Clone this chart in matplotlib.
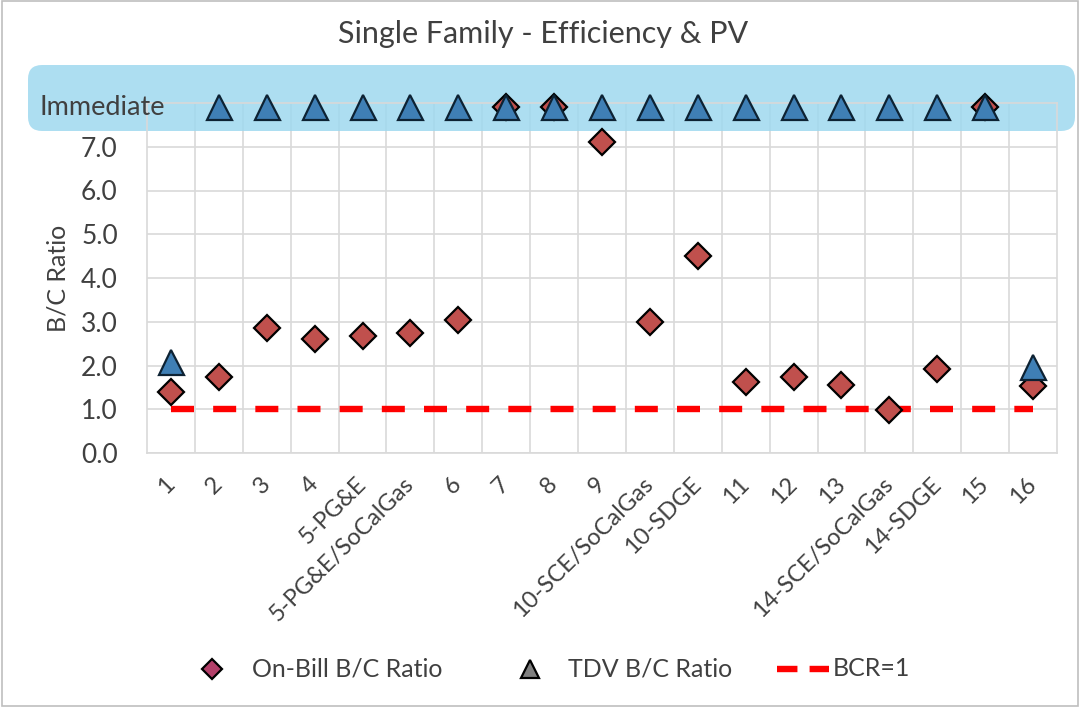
import matplotlib
matplotlib.use("Agg")
import matplotlib.pyplot as plt
from matplotlib.lines import Line2D
from matplotlib.patches import FancyBboxPatch, Rectangle
from matplotlib.transforms import IdentityTransform, blended_transform_factory

plt.rcParams["font.family"] = ["Lato", "DejaVu Sans"]

IMMEDIATE = "Immediate"

categories = [
    "1", "2", "3", "4", "5-PG&E", "5-PG&E/SoCalGas", "6", "7", "8", "9",
    "10-SCE/SoCalGas", "10-SDGE", "11", "12", "13", "14-SCE/SoCalGas",
    "14-SDGE", "15", "16",
]
on_bill = [
    1.39, 1.73, 2.85, 2.60, 2.67, 2.74, 3.03, IMMEDIATE, IMMEDIATE, 7.11,
    2.99, 4.51, 1.62, 1.73, 1.55, 0.98, 1.92, IMMEDIATE, 1.53,
]
tdv = [2.07] + [IMMEDIATE] * 17 + [1.96]
bcr = [1.0] * len(categories)
y_ticks = [0, 1, 2, 3, 4, 5, 6, 7]
legend_labels = ["On-Bill B/C Ratio", "TDV B/C Ratio", "BCR=1"]

IMMEDIATE_Y = 7.9
TEXT = "#404040"
DASH = (0, (3.6, 3.0))


def _to_y(values):
    return [IMMEDIATE_Y if v == IMMEDIATE else v for v in values]


W, H = 1080, 707
fig = plt.figure(figsize=(W / 100, H / 100), dpi=100)
fig.patch.set_facecolor("white")
ax = fig.add_axes([147 / W, 1 - 453 / H, 910 / W, 350 / H])

x = list(range(len(categories)))

# light blue band behind the "Immediate" row
band = FancyBboxPatch(
    (28, H - 131), 1047, 66,
    boxstyle="round,pad=0,rounding_size=14",
    transform=IdentityTransform(),
    facecolor="#9fd9ef", edgecolor="none", alpha=0.85,
    clip_on=False, zorder=1,
)
ax.add_patch(band)

ax.plot(x, bcr, color="#ff0000", linestyle=DASH, linewidth=4.6, zorder=2)
ax.plot(x, _to_y(on_bill), linestyle="none", marker="D", markersize=13,
        markerfacecolor="#c0504d", markeredgecolor="black",
        markeredgewidth=1.6, zorder=3, clip_on=False)
ax.plot(x, _to_y(tdv), linestyle="none", marker="^", markersize=18,
        markerfacecolor="#3f7fb5", markeredgecolor="#0d2233",
        markeredgewidth=1.6, zorder=4, clip_on=False)

ax.set_xlim(-0.5, len(categories) - 0.5)
ax.set_ylim(0, 8)

ax.set_yticks(y_ticks)
ax.set_yticklabels([f"{v:.1f}" for v in y_ticks])
ax.set_xticks(x)
ax.set_xticklabels(categories, rotation=45, ha="right", va="center",
                   rotation_mode="anchor")
ax.tick_params(axis="y", length=0, pad=21, labelsize=19, colors=TEXT)
ax.tick_params(axis="x", length=0, pad=20, labelsize=17, colors=TEXT)

for yy in y_ticks + [8]:
    ax.axhline(yy, color="#d9d9d9", linewidth=1.2, zorder=0.5)
for xx in [i + 0.5 for i in x[:-1]]:
    ax.axvline(xx, color="#d9d9d9", linewidth=1.2, zorder=0.5)
for spine in ax.spines.values():
    spine.set_color("#d9d9d9")
    spine.set_linewidth(1.2)

trans = blended_transform_factory(IdentityTransform(), ax.transData)
ax.text(40, IMMEDIATE_Y, IMMEDIATE, transform=trans, ha="left", va="center",
        fontsize=19.5, color=TEXT, zorder=5, clip_on=False)

ax.set_ylabel("B/C Ratio", fontsize=18, color=TEXT)
ax.yaxis.set_label_coords(-0.085, 0.5)

fig.text(543 / W, 1 - 34 / H, "Single Family - Efficiency & PV",
         ha="center", va="center", fontsize=22, color=TEXT)

# legend row, laid out by hand to match the spacing of the original
leg_y = H - 669
px = IdentityTransform()
fig.add_artist(Line2D([212], [leg_y], transform=px, linestyle="none",
                      marker="D", markersize=10, markerfacecolor="#b4406a",
                      markeredgecolor="black", markeredgewidth=1.6))
fig.add_artist(Line2D([530], [leg_y], transform=px, linestyle="none",
                      marker="^", markersize=13, markerfacecolor="#7f7f7f",
                      markeredgecolor="black", markeredgewidth=1.6))
fig.add_artist(Line2D([777, 829], [leg_y, leg_y], transform=px,
                      color="#ff0000", linestyle=(0, (3.2, 1.9)), linewidth=4.6))
for lx, label in zip([252, 568, 833], legend_labels):
    fig.text(lx, leg_y, label, transform=px, ha="left", va="center",
             fontsize=18, color=TEXT)

fig.add_artist(Rectangle((0.002, 0.002), 0.996, 0.996, transform=fig.transFigure,
                         fill=False, edgecolor="#bfbfbf", linewidth=1.2))

fig.savefig("out.png", dpi=100, facecolor="white")
